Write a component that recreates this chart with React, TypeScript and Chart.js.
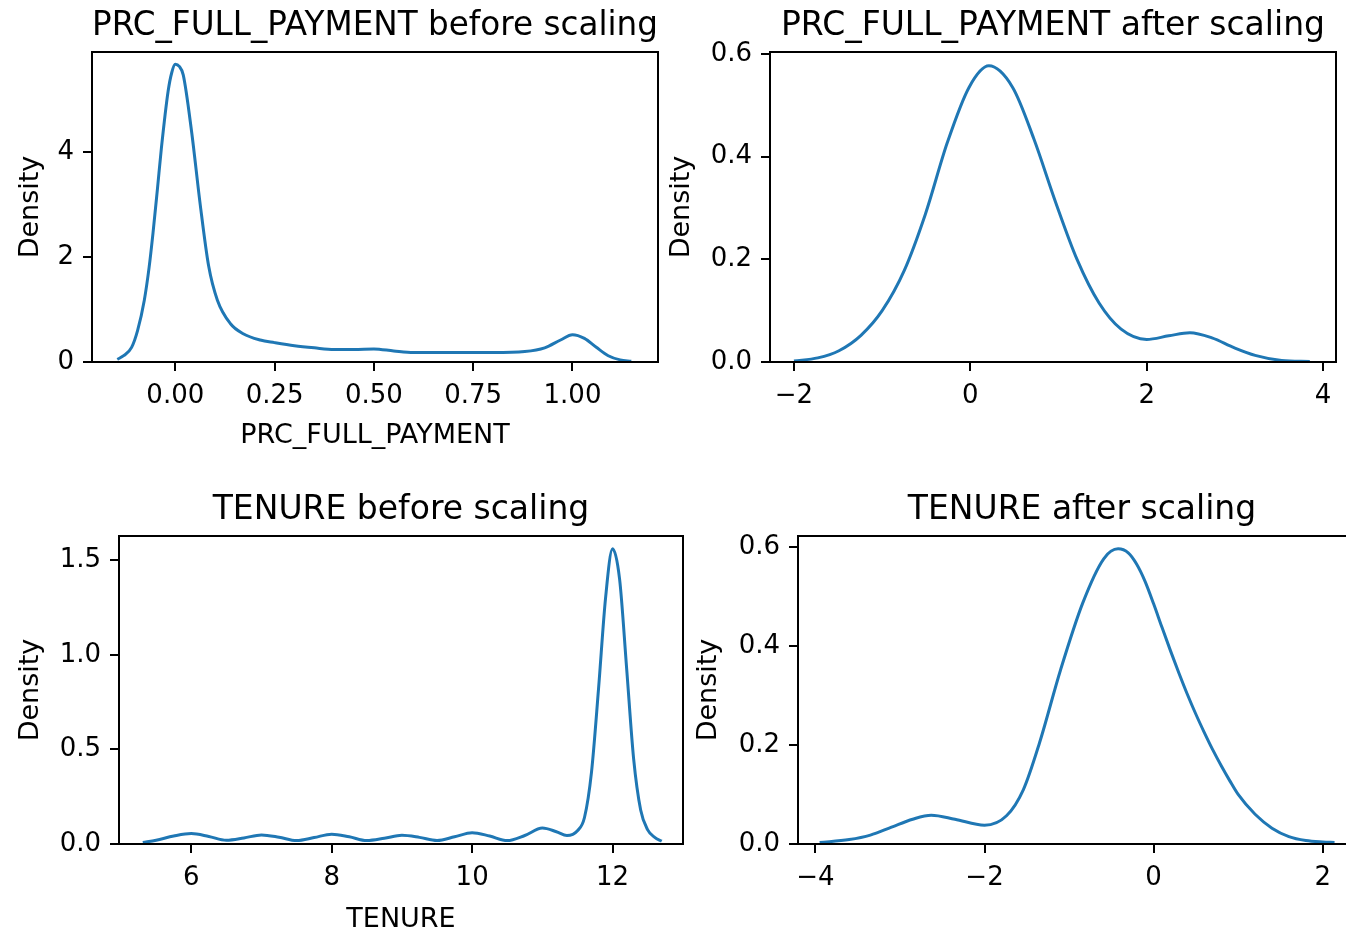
import React, { useEffect, useRef } from "react";
import { Chart, registerables } from "chart.js";

Chart.register(...registerables);

// ---------- DATA ----------
// PRC_FULL_PAYMENT before scaling
const prcBeforeX = [-0.146, -0.13, -0.11, -0.095, -0.078, -0.066, -0.056, -0.045, -0.035, -0.018, -0.009, 0.0, 0.01, 0.02, 0.041, 0.063, 0.084, 0.106, 0.139, 0.171, 0.214, 0.25, 0.3, 0.35, 0.4, 0.45, 0.5, 0.55, 0.6, 0.7, 0.8, 0.88, 0.93, 0.97, 1.0, 1.03, 1.06, 1.09, 1.12, 1.148];
const prcBeforeY = [0.05, 0.12, 0.28, 0.6, 1.18, 1.8, 2.47, 3.3, 4.08, 5.17, 5.52, 5.68, 5.64, 5.48, 4.4, 2.99, 1.83, 1.18, 0.73, 0.54, 0.42, 0.37, 0.31, 0.27, 0.24, 0.24, 0.25, 0.21, 0.18, 0.18, 0.18, 0.2, 0.27, 0.42, 0.52, 0.45, 0.28, 0.12, 0.04, 0.015];
const prcBeforeXTicks = [0, 0.25, 0.5, 0.75, 1.0];
const prcBeforeYTicks = [0, 2, 4];

// PRC_FULL_PAYMENT after scaling
const prcAfterX = [-2.0, -1.73, -1.49, -1.24, -1.0, -0.75, -0.51, -0.26, -0.015, 0.21, 0.48, 0.72, 0.97, 1.21, 1.46, 1.71, 2.0, 2.25, 2.49, 2.74, 2.99, 3.23, 3.53, 3.85];
const prcAfterY = [0.002, 0.008, 0.022, 0.052, 0.1, 0.178, 0.288, 0.428, 0.535, 0.577, 0.535, 0.435, 0.31, 0.2, 0.115, 0.064, 0.044, 0.051, 0.057, 0.047, 0.028, 0.013, 0.003, 0.001];
const prcAfterXTicks = [-2, 0, 2, 4];
const prcAfterYTicks = [0, 0.2, 0.4, 0.6];

// TENURE before scaling
const tenureBeforeX = [5.31, 5.5, 5.75, 6.0, 6.25, 6.5, 6.75, 7.0, 7.25, 7.5, 7.75, 8.0, 8.25, 8.5, 8.75, 9.0, 9.25, 9.5, 9.75, 10.0, 10.25, 10.5, 10.75, 11.0, 11.2, 11.35, 11.5, 11.6, 11.7, 11.8, 11.9, 12.0, 12.1, 12.2, 12.3, 12.4, 12.5, 12.6, 12.7];
const tenureBeforeY = [0.008, 0.02, 0.042, 0.055, 0.04, 0.02, 0.032, 0.048, 0.036, 0.018, 0.034, 0.052, 0.038, 0.018, 0.03, 0.046, 0.035, 0.018, 0.038, 0.06, 0.042, 0.018, 0.045, 0.084, 0.065, 0.045, 0.07, 0.14, 0.38, 0.82, 1.3, 1.56, 1.4, 0.93, 0.45, 0.18, 0.075, 0.035, 0.015];
const tenureBeforeXTicks = [6, 8, 10, 12];
const tenureBeforeYTicks = [0, 0.5, 1.0, 1.5];

// TENURE after scaling
const tenureAfterX = [-3.95, -3.6, -3.35, -3.1, -2.85, -2.63, -2.35, -2.0, -1.74, -1.54, -1.35, -1.1, -0.84, -0.59, -0.42, -0.3, -0.2, -0.1, 0.0, 0.1, 0.2, 0.3, 0.4, 0.5, 0.6, 0.7, 0.8, 0.9, 1.0, 1.2, 1.4, 1.6, 1.8, 2.0, 2.14];
const tenureAfterY = [0.003, 0.009, 0.018, 0.034, 0.05, 0.058, 0.05, 0.038, 0.057, 0.11, 0.204, 0.352, 0.486, 0.576, 0.596, 0.588, 0.565, 0.53, 0.485, 0.437, 0.39, 0.345, 0.302, 0.262, 0.225, 0.19, 0.158, 0.128, 0.1, 0.06, 0.032, 0.015, 0.007, 0.004, 0.003];
const tenureAfterXTicks = [-4, -2, 0, 2];
const tenureAfterYTicks = [0, 0.2, 0.4, 0.6];

// ---------- STYLE ----------
const FONT = "'DejaVu Sans', sans-serif";
const LINE_COLOR = "#1f77b4";
const TITLE_SIZE = 33;
const LABEL_SIZE = 27;
const TICK_SIZE = 26;

type Box = { l: number; t: number; r: number; b: number };
type PanelSpec = {
  title: string;
  xLabel: string;
  xs: number[];
  ys: number[];
  xTicks: number[];
  yTicks: number[];
  xDec: number;
  yDec: number;
  xMin: number;
  xMax: number;
  yMin: number;
  yMax: number;
  canvas: Box;
  frame: Box;
  titlePadTop: number;
  yTitlePad: number;
  xTitlePadBottom: number;
};

const fmt = (v: number, dec: number) => v.toFixed(dec).replace("-", "\u2212");

const framePlugin = {
  id: "frameBox",
  afterDraw(chart: any) {
    const { ctx, chartArea: a } = chart;
    ctx.save();
    ctx.strokeStyle = "#000";
    ctx.lineWidth = 2;
    ctx.strokeRect(a.left, a.top, a.right - a.left, a.bottom - a.top);
    ctx.restore();
  },
};

function Panel({ spec }: { spec: PanelSpec }) {
  const ref = useRef<HTMLCanvasElement | null>(null);
  const cw = spec.canvas.r - spec.canvas.l;
  const ch = spec.canvas.b - spec.canvas.t;
  const lPad = spec.frame.l - spec.canvas.l;
  const rPad = spec.canvas.r - spec.frame.r;
  const tPad = spec.frame.t - spec.canvas.t;
  const bPad = spec.canvas.b - spec.frame.b;

  useEffect(() => {
    if (!ref.current) return;
    const titleLH = TITLE_SIZE * 1.2;
    const titlePadBottom = tPad - titleLH - spec.titlePadTop;
    const gridCfg = {
      display: true,
      drawOnChartArea: false,
      drawTicks: true,
      tickLength: 9,
      color: "#000",
      lineWidth: 2,
    };
    const chart = new Chart(ref.current, {
      type: "line",
      data: {
        datasets: [
          {
            data: spec.xs.map((x, i) => ({ x, y: spec.ys[i] })),
            borderColor: LINE_COLOR,
            borderWidth: 3,
            pointRadius: 0,
            fill: false,
            cubicInterpolationMode: "monotone",
          },
        ],
      },
      options: {
        animation: false,
        responsive: false,
        devicePixelRatio: 1,
        events: [],
        layout: { padding: { left: 0, top: 0, right: rPad, bottom: 0 } },
        plugins: {
          legend: { display: false },
          tooltip: { enabled: false },
          title: {
            display: true,
            text: spec.title,
            fullSize: false,
            color: "#000",
            font: { family: FONT, size: TITLE_SIZE, weight: "normal", lineHeight: 1.2 },
            padding: { top: spec.titlePadTop, bottom: titlePadBottom },
          },
        },
        scales: {
          x: {
            type: "linear",
            min: spec.xMin,
            max: spec.xMax,
            afterBuildTicks: (s: any) => {
              s.ticks = spec.xTicks.map((v) => ({ value: v }));
            },
            afterFit: (s: any) => {
              s.height = bPad;
            },
            ticks: {
              callback: (v: any) => fmt(Number(v), spec.xDec),
              color: "#000",
              font: { family: FONT, size: TICK_SIZE },
              padding: 10,
              autoSkip: false,
              maxRotation: 0,
              minRotation: 0,
            },
            grid: gridCfg,
            border: { display: false },
            title: {
              display: spec.xLabel !== "",
              text: spec.xLabel,
              color: "#000",
              font: { family: FONT, size: LABEL_SIZE, lineHeight: 1.2 },
              padding: { top: 0, bottom: spec.xTitlePadBottom },
            },
          },
          y: {
            type: "linear",
            min: spec.yMin,
            max: spec.yMax,
            afterBuildTicks: (s: any) => {
              s.ticks = spec.yTicks.map((v) => ({ value: v }));
            },
            afterFit: (s: any) => {
              s.width = lPad;
            },
            ticks: {
              callback: (v: any) => fmt(Number(v), spec.yDec),
              color: "#000",
              font: { family: FONT, size: TICK_SIZE },
              padding: 9,
              autoSkip: false,
            },
            grid: gridCfg,
            border: { display: false },
            title: {
              display: true,
              text: "Density",
              color: "#000",
              font: { family: FONT, size: LABEL_SIZE, lineHeight: 1.2 },
              padding: { top: spec.yTitlePad, bottom: 0 },
            },
          },
        },
      },
      plugins: [framePlugin],
    } as any);
    return () => chart.destroy();
  }, []);

  return (
    <canvas
      ref={ref}
      width={cw}
      height={ch}
      style={{
        position: "absolute",
        left: spec.canvas.l,
        top: spec.canvas.t,
        width: cw,
        height: ch,
      }}
    />
  );
}

const panels: PanelSpec[] = [
  {
    title: "PRC_FULL_PAYMENT before scaling",
    xLabel: "PRC_FULL_PAYMENT",
    xs: prcBeforeX,
    ys: prcBeforeY,
    xTicks: prcBeforeXTicks,
    yTicks: prcBeforeYTicks,
    xDec: 2,
    yDec: 0,
    xMin: -0.2097,
    xMax: 1.2153,
    yMin: 0,
    yMax: 5.916,
    canvas: { l: 0, t: 0, r: 662, b: 460 },
    frame: { l: 92, t: 52, r: 658, b: 362 },
    titlePadTop: 7,
    yTitlePad: 14.8,
    xTitlePadBottom: 7.8,
  },
  {
    title: "PRC_FULL_PAYMENT after scaling",
    xLabel: "",
    xs: prcAfterX,
    ys: prcAfterY,
    xTicks: prcAfterXTicks,
    yTicks: prcAfterYTicks,
    xDec: 0,
    yDec: 1,
    xMin: -2.272,
    xMax: 4.147,
    yMin: 0,
    yMax: 0.604,
    canvas: { l: 660, t: 0, r: 1346, b: 460 },
    frame: { l: 770, t: 52, r: 1336, b: 362 },
    titlePadTop: 7,
    yTitlePad: 5.8,
    xTitlePadBottom: 0,
  },
  {
    title: "TENURE before scaling",
    xLabel: "TENURE",
    xs: tenureBeforeX,
    ys: tenureBeforeY,
    xTicks: tenureBeforeXTicks,
    yTicks: tenureBeforeYTicks,
    xDec: 0,
    yDec: 1,
    xMin: 4.971,
    xMax: 13.003,
    yMin: 0,
    yMax: 1.628,
    canvas: { l: 0, t: 470, r: 690, b: 940 },
    frame: { l: 119, t: 536, r: 683, b: 844 },
    titlePadTop: 21,
    yTitlePad: 14.8,
    xTitlePadBottom: 3.8,
  },
  {
    title: "TENURE after scaling",
    xLabel: "",
    xs: tenureAfterX,
    ys: tenureAfterY,
    xTicks: tenureAfterXTicks,
    yTicks: tenureAfterYTicks,
    xDec: 0,
    yDec: 1,
    xMin: -4.206,
    xMax: 2.512,
    yMin: 0,
    yMax: 0.622,
    canvas: { l: 690, t: 470, r: 1370, b: 940 },
    frame: { l: 798, t: 536, r: 1366, b: 844 },
    titlePadTop: 21,
    yTitlePad: 2.8,
    xTitlePadBottom: 0,
  },
];

export default function App() {
  return (
    <div
      style={{
        position: "fixed",
        left: 0,
        top: 0,
        width: 1346,
        height: 932,
        overflow: "hidden",
        background: "#fff",
      }}
    >
      {panels.map((p, i) => (
        <Panel key={i} spec={p} />
      ))}
    </div>
  );
}
